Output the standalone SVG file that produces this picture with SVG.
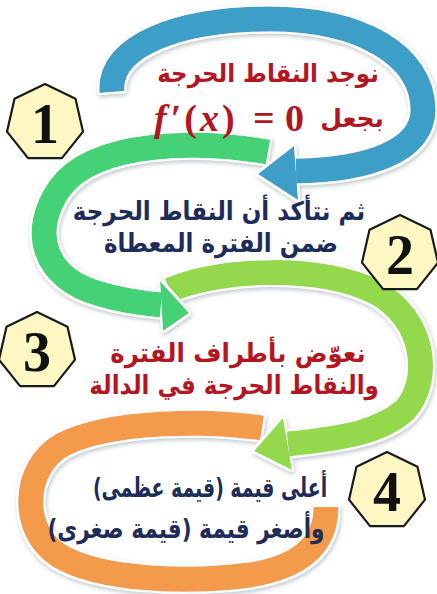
<svg xmlns="http://www.w3.org/2000/svg" width="437" height="594" viewBox="0 0 437 594">
<style>
.band{fill:none;stroke-width:25;stroke-linecap:butt;stroke-linejoin:round}
.ar{font-family:'DejaVu Sans',sans-serif;font-weight:bold;font-size:23px;text-anchor:middle}
.red{fill:#b3161f}
.navy{fill:#1d2c58}
.hept{fill:#fdf7c4;stroke:#1a1a1a;stroke-width:2.2;stroke-linejoin:round}
.num{font-family:'Liberation Serif',serif;font-weight:bold;font-size:56px;text-anchor:middle;fill:#111}
.math{font-family:'Liberation Serif',serif;font-weight:bold;font-size:38px;fill:#b3161f}
</style>
<defs>
<filter id="fx" x="-15%" y="-15%" width="130%" height="130%">
<feMorphology in="SourceAlpha" operator="dilate" radius="2" result="dil"/>
<feGaussianBlur in="dil" stdDeviation="2" result="blur"/>
<feOffset in="blur" dx="1" dy="2" result="off"/>
<feFlood flood-color="#8a9aa0" flood-opacity="0.55"/>
<feComposite in2="off" operator="in" result="shadow"/>
<feFlood flood-color="#ffffff"/>
<feComposite in2="dil" operator="in" result="outline"/>
<feMerge><feMergeNode in="shadow"/><feMergeNode in="outline"/><feMergeNode in="SourceGraphic"/></feMerge>
</filter>
<polygon id="hp" class="hept" points="0,-39 30.49,-24.32 38.02,8.68 16.92,35.14 -16.92,35.14 -38.02,8.68 -30.49,-24.32"/>
</defs>

<g id="connectors">
<g id="arrow-orange" filter="url(#fx)">
<path class="band" stroke="#f39a4b" d="M 262,428 C 210,420 110,420 62,445 C 22,468 20,530 58,555 C 100,581 190,583 250,575 C 300,567 326,545 326,507"/>
</g>
<g id="arrow-lime" filter="url(#fx)">
<path class="band" stroke="#93d94c" d="M 170,290 C 220,268 320,265 375,292 C 425,318 432,380 405,410 C 380,432 345,438 288,444"/>
<polygon fill="#93d94c" points="283,418 254,451 292,470"/>
</g>
<g id="arrow-green" filter="url(#fx)">
<path class="band" stroke="#44d176" d="M 268,152 C 200,140 95,140 60,188 C 30,230 42,278 100,294 C 120,300 140,303 161,305"/>
<polygon fill="#44d176" points="160,281 189,313 163,331"/>
</g>
<g id="arrow-blue" filter="url(#fx)">
<path class="band" stroke="#3d9ec8" d="M 112,92 C 108,45 180,19 270,19 C 360,19 423,55 423,110 C 423,150 370,170 296,171"/>
<polygon fill="#3d9ec8" points="294,146 258,174 298,200"/>
</g>
</g>

<g id="step1">
<use href="#hp" x="45" y="123"/>
<text class="num" x="45" y="143">1</text>
<text class="ar red" direction="rtl" transform="translate(268,82) scale(1,1.1)" x="0" y="0">نوجد النقاط الحرجة</text>
<text class="ar red" x="384" y="127" direction="rtl" style="text-anchor:start;font-size:25px">بجعل</text>
<text class="math" y="131"><tspan x="154" font-style="italic" letter-spacing="4">f</tspan><tspan letter-spacing="3">′(</tspan><tspan font-style="italic" letter-spacing="3">x</tspan><tspan>)</tspan><tspan x="253">=</tspan><tspan x="285">0</tspan></text>
</g>

<g id="step2">
<use href="#hp" x="400" y="254"/>
<text class="num" x="400" y="274">2</text>
<text class="ar navy" direction="rtl" transform="translate(219,220) scale(1,1.12)" x="0" y="0">ثم نتأكد أن النقاط الحرجة</text>
<text class="ar navy" direction="rtl" transform="translate(221,252) scale(1,1.12)" x="0" y="0">ضمن الفترة المعطاة</text>
</g>

<g id="step3">
<use href="#hp" x="37" y="351"/>
<text class="num" x="37" y="371">3</text>
<text class="ar red" direction="rtl" transform="translate(238,362) scale(1.06,1.12)" x="0" y="0">نعوّض بأطراف الفترة</text>
<text class="ar red" direction="rtl" transform="translate(234,394) scale(1.0,1.12)" x="0" y="0">والنقاط الحرجة في الدالة</text>
</g>

<g id="step4">
<use href="#hp" x="387" y="491"/>
<text class="num" x="387" y="511">4</text>
<text class="ar navy" direction="rtl" transform="translate(210,497) scale(0.82,1.18)" x="0" y="0">أعلى قيمة (قيمة عظمى)</text>
<text class="ar navy" direction="rtl" transform="translate(186,538) scale(0.94,1.18)" x="0" y="0">وأصغر قيمة (قيمة صغرى)</text>
</g>
</svg>
